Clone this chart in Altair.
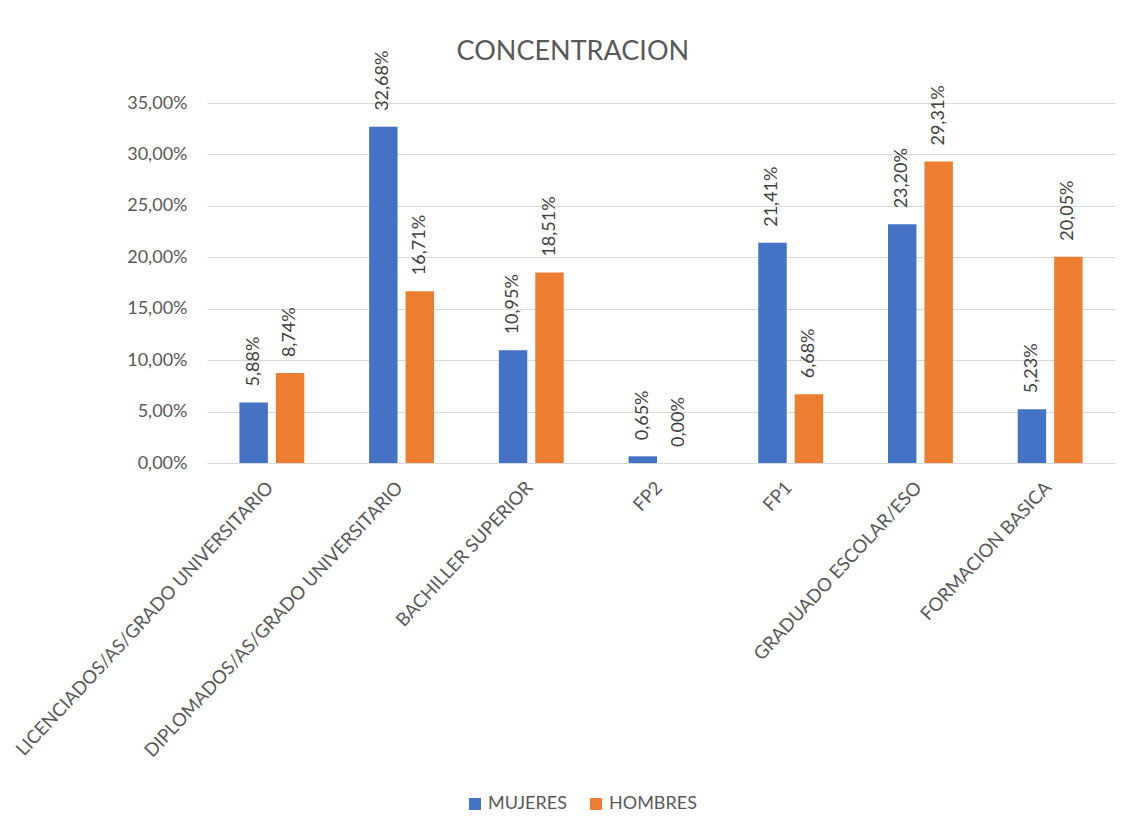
import altair as alt
import pandas as pd

categories = [
    "LICENCIADOS/AS/GRADO UNIVERSITARIO",
    "DIPLOMADOS/AS/GRADO UNIVERSITARIO",
    "BACHILLER SUPERIOR",
    "FP2",
    "FP1",
    "GRADUADO ESCOLAR/ESO",
    "FORMACION BASICA",
]
series = ["MUJERES", "HOMBRES"]
mujeres = [5.88, 32.68, 10.95, 0.65, 21.41, 23.20, 5.23]
hombres = [8.74, 16.71, 18.51, 0.00, 6.68, 29.31, 20.05]
y_ticks = [0, 5, 10, 15, 20, 25, 30, 35]
colors = ["#4472C4", "#ED7D31"]

rows = []
for c, m, h in zip(categories, mujeres, hombres):
    rows.append({"cat": c, "serie": "MUJERES", "value": m / 100})
    rows.append({"cat": c, "serie": "HOMBRES", "value": h / 100})
df = pd.DataFrame(rows)

FONT = "Lato"
TXT = "#595959"
fmt = "replace(format(datum.value, '.2%'), '.', ',')"

base = alt.Chart(df).encode(
    x=alt.X(
        "cat:N",
        sort=categories,
        title=None,
        scale=alt.Scale(paddingInner=0.5, paddingOuter=0.25),
        axis=alt.Axis(
            labelAngle=313,
            labelAlign="right",
            labelBaseline="middle",
            labelOffset=-2,
            labelPadding=21,
            ticks=False,
            domainColor="#D9D9D9",
            labelFontSize=18.5,
            labelColor=TXT,
            labelFont=FONT,
            labelLimit=0,
        ),
    ),
    xOffset=alt.XOffset("serie:N", sort=series, scale=alt.Scale(paddingInner=0.22)),
)

bars = base.mark_bar().encode(
    y=alt.Y(
        "value:Q",
        title=None,
        scale=alt.Scale(domain=[0, 0.35], nice=False),
        axis=alt.Axis(
            values=[v / 100 for v in y_ticks],
            labelExpr=fmt,
            domain=False,
            ticks=False,
            labelPadding=20,
            labelFontSize=18,
            labelColor=TXT,
            labelFont=FONT,
            gridColor="#D9D9D9",
            gridWidth=1,
        ),
    ),
    color=alt.Color(
        "serie:N",
        sort=series,
        scale=alt.Scale(domain=series, range=colors),
        legend=alt.Legend(
            title=None,
            orient="none",
            legendX=259,
            legendY=692,
            direction="horizontal",
            symbolType="square",
            symbolSize=144,
            symbolStrokeWidth=0,
            labelFontSize=18,
            labelColor=TXT,
            labelFont=FONT,
            columnPadding=20,
            padding=0,
        ),
    ),
)

labels = base.mark_text(
    angle=270, align="left", baseline="middle", dx=16, fontSize=18, font=FONT, color="#404040"
).transform_calculate(label=fmt).encode(
    y=alt.Y("value:Q"),
    text="label:N",
)

chart = (
    alt.layer(bars, labels)
    .properties(
        width=908,
        height=360,
        title=alt.Title(
            "CONCENTRACION",
            fontSize=27,
            font=FONT,
            fontWeight="normal",
            color=TXT,
            anchor="middle",
            frame="bounds",
            offset=0,
            dy=15,
            dx=9,
        ),
        autosize=alt.AutoSizeParams(type="none"),
        padding={"left": 199, "top": 95, "right": 11, "bottom": 360},
    )
    .configure_view(stroke=None)
)

chart.save("out.html", embed_options={"renderer": "svg", "actions": False})
